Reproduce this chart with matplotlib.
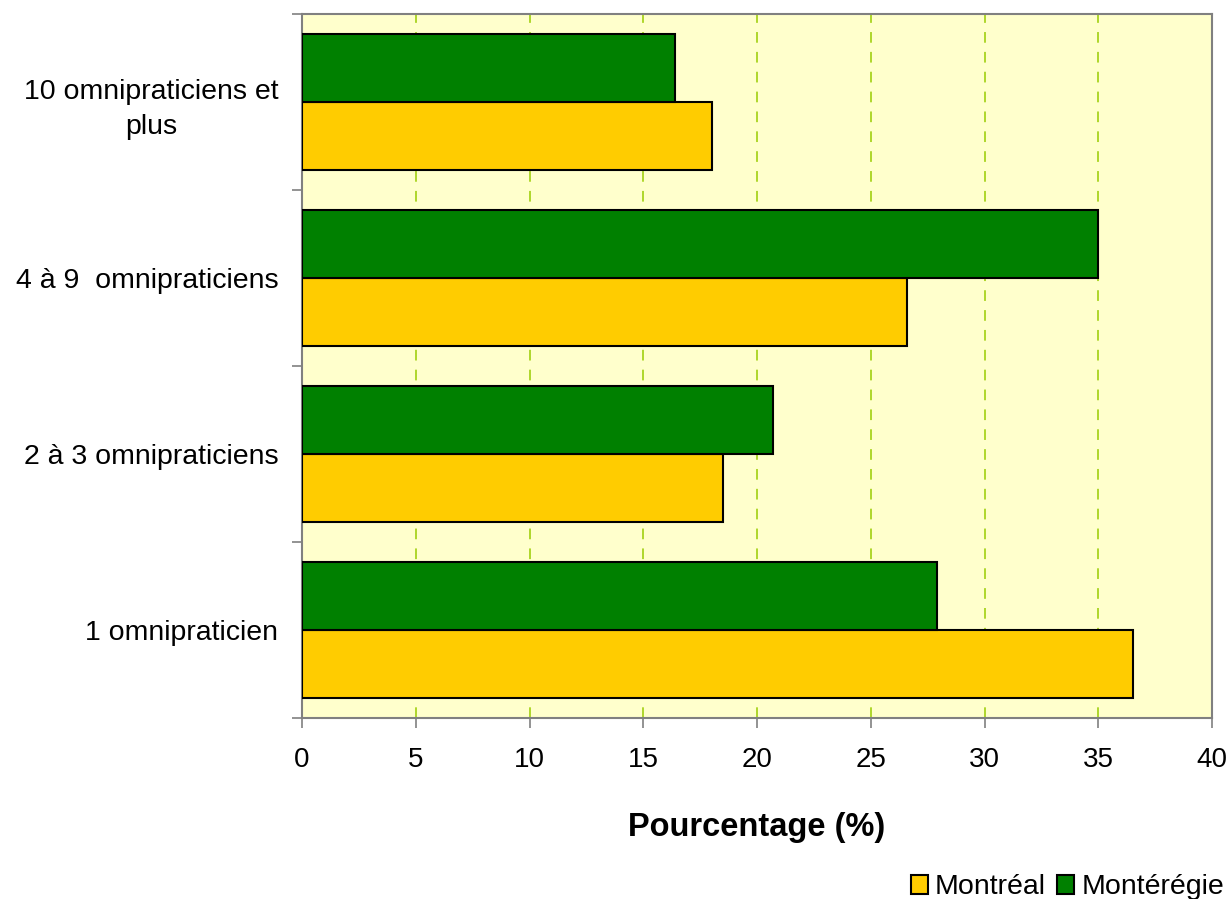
import matplotlib.pyplot as plt
import numpy as np

plt.rcParams['font.family'] = ['Liberation Sans', 'DejaVu Sans']

categories = ["1 omnipraticien", "2 à 3 omnipraticiens", "4 à 9  omnipraticiens", "10 omnipraticiens et\nplus"]
montreal = [36.5, 18.5, 26.6, 18.0]
monteregie = [27.9, 20.7, 35.0, 16.4]
series_names = ["Montréal", "Montérégie"]
xticks = [0, 5, 10, 15, 20, 25, 30, 35, 40]

fig = plt.figure(figsize=(12.3, 8.99), dpi=100)
ax = fig.add_axes([0.2455, 0.2013, 0.74, 0.7831])
ax.set_facecolor("#FFFFCC")

y = np.arange(len(categories))
h = 0.385
b1 = ax.barh(y - h / 2, montreal, height=h, color="#FFCC00", edgecolor="black", linewidth=1.5, label=series_names[0], zorder=3)
b2 = ax.barh(y + h / 2, monteregie, height=h, color="#008000", edgecolor="black", linewidth=1.5, label=series_names[1], zorder=3)

ax.set_xlim(0, 40)
ax.set_ylim(-0.5, len(categories) - 0.5)
ax.set_xticks(xticks)
ax.set_xticklabels([str(v) for v in xticks], fontsize=20)
ax.set_yticks(np.arange(len(categories) + 1) - 0.5)
ax.set_yticklabels([])
ax.set_yticks(y, minor=True)
ax.set_yticklabels(categories, minor=True, fontsize=20.5, multialignment="center", linespacing=1.45)
ax.tick_params(axis="y", which="minor", length=0, pad=17)
ax.tick_params(axis="y", which="major", length=7, color="#808080", width=1.2)
ax.tick_params(axis="x", length=7, color="#808080", width=1.2, pad=14)

ax.xaxis.grid(True, color="#99CC00", linestyle=(0, (7, 6)), linewidth=1.1, zorder=0)
ax.set_axisbelow(True)
for s in ax.spines.values():
    s.set_color("#808080")
    s.set_linewidth(1.5)

ax.set_xlabel("Pourcentage (%)", fontsize=23.5, fontweight="bold", labelpad=28)

fig.legend(handles=[b1, b2], loc="lower right", bbox_to_anchor=(1.0, -0.008), ncol=2, frameon=False,
           fontsize=20.5, handlelength=0.6, handleheight=0.6, handletextpad=0.25, columnspacing=0.4,
           borderaxespad=0.0, borderpad=0.2)

plt.savefig("out.png")
